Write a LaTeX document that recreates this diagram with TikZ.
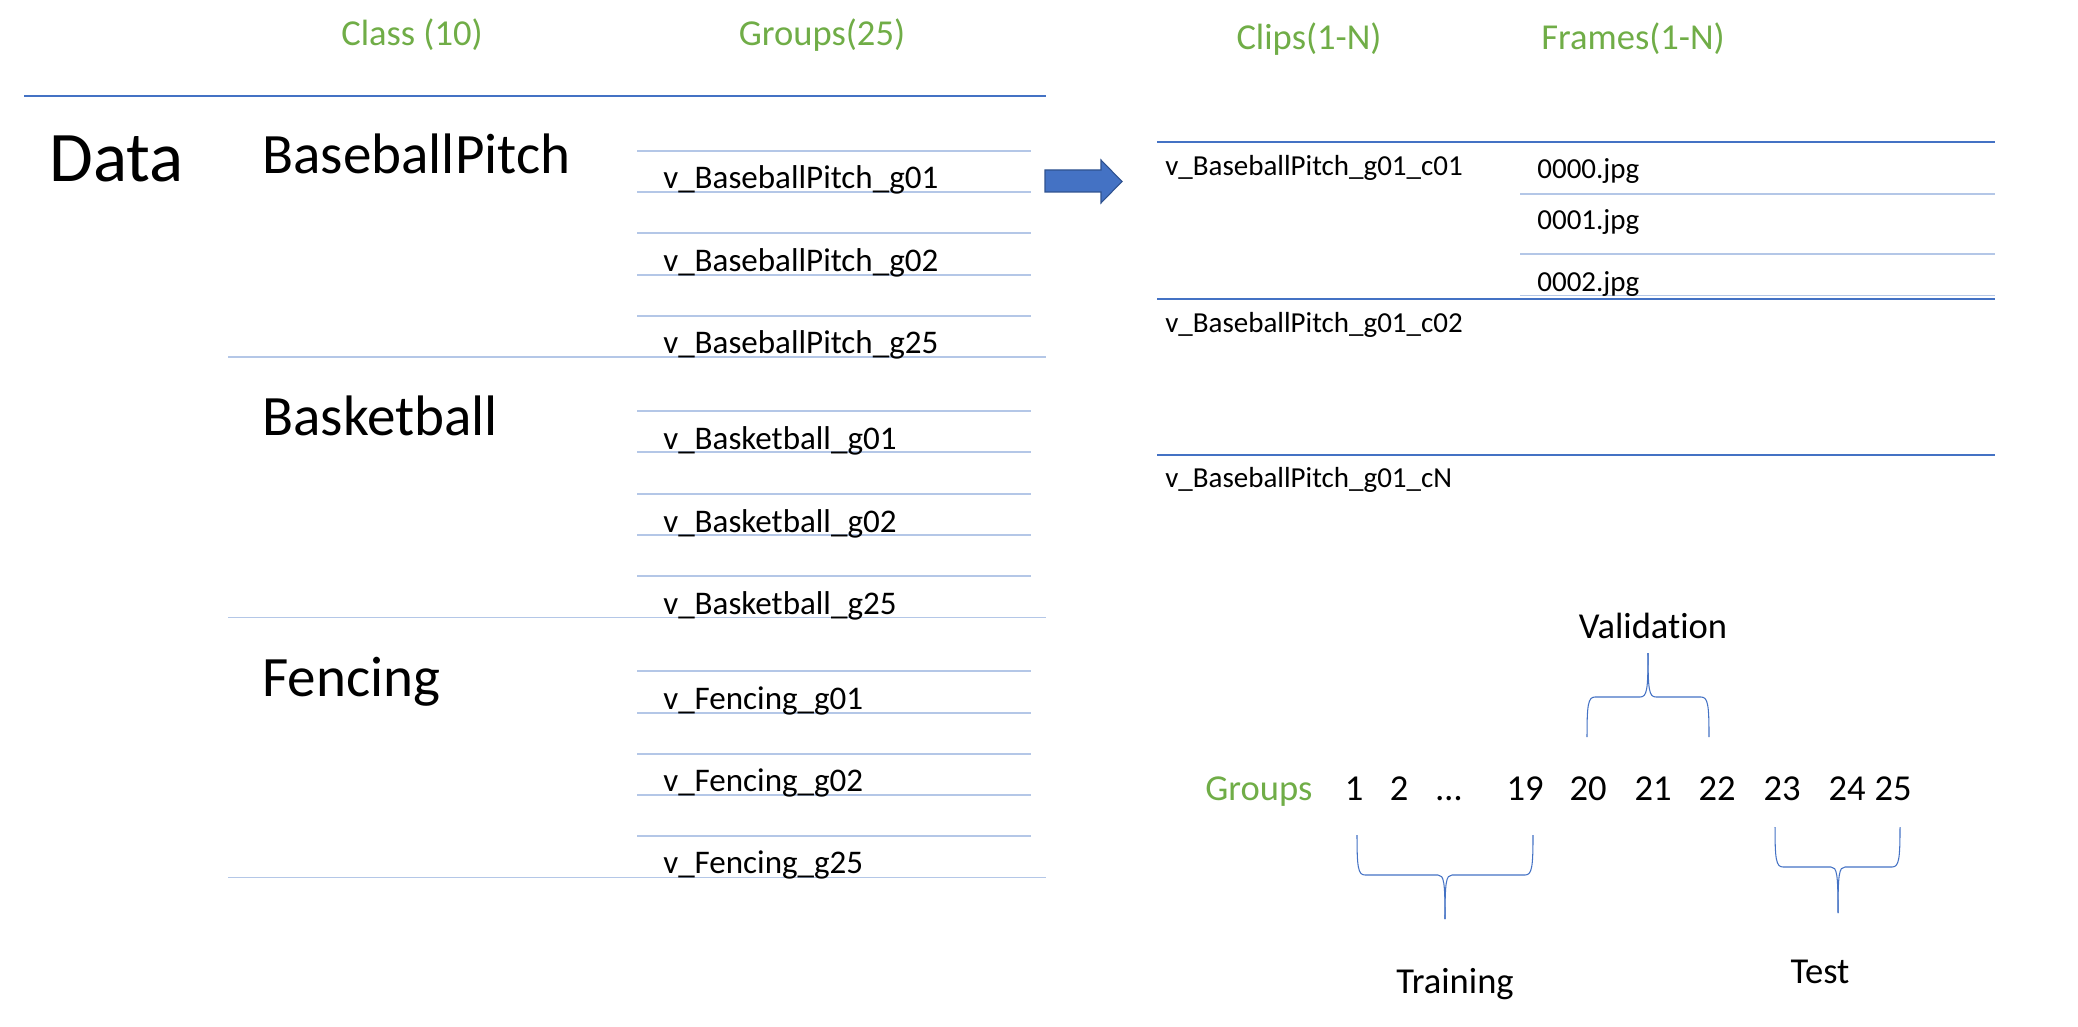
\documentclass[tikz,border=0pt]{standalone}
\usepackage{fontspec}
\setmainfont{Carlito}[Ligatures={NoCommon}]
\definecolor{hdgreen}{HTML}{70AD47}
\definecolor{rulelight}{HTML}{B4C7E7}
\definecolor{ruledark}{HTML}{4472C4}
\definecolor{arrowedge}{HTML}{2F528F}
\tikzset{
  header/.style={text=hdgreen, font=\fontsize{20.8}{25}\selectfont, anchor=base, inner sep=0pt},
  classname/.style={font=\fontsize{32.5}{39}\selectfont, anchor=base west, inner sep=0pt},
  groupitem/.style={font=\fontsize{18.8}{22}\selectfont, anchor=base west, inner sep=0pt},
  clipitem/.style={font=\fontsize{16.5}{20}\selectfont, anchor=base west, inner sep=0pt},
  splitnum/.style={font=\fontsize{20.8}{25}\selectfont, anchor=base, inner sep=0pt},
  lightrule/.style={rulelight, line width=0.8pt},
  darkrule/.style={ruledark, line width=0.9pt},
  bracket/.style={ruledark, line width=0.6pt},
}
\begin{document}
\begin{tikzpicture}[x=0.02cm, y=-0.02cm]
    \useasboundingbox (0,0) rectangle (2078,1027);
    % column headers
    \node[header] (classhead) at (412,46) {Class (10)};
    \node[header] (grouphead) at (822,46) {Groups(25)};
    \node[header] (cliphead) at (1309,50) {Clips(1-N)};
    \node[header] (framehead) at (1633,50) {Frames(1-N)};
    \draw[darkrule] (24,96) -- (1046,96);
    % left table
    \node[font=\fontsize{40.5}{48}\selectfont, anchor=base west, inner sep=0pt] (data) at (49,182) {Data};
    \node[classname] (baseball) at (262,174) {BaseballPitch};
    \node[classname] (basket) at (262,435) {Basketball};
    \node[classname] (fencing) at (262,696) {Fencing};
    \foreach \ly in {151,192,233,275,316, 411,452,494,535,576, 671,713,754,795,836}
        \draw[lightrule] (637,\ly) -- (1031,\ly);
    \foreach \ly in {357,617.5,877.5}
        \draw[lightrule] (228,\ly) -- (1046,\ly);
    \node[groupitem] (bp1) at (663,189) {v\_BaseballPitch\_g01};
    \node[groupitem] (bp2) at (663,271) {v\_BaseballPitch\_g02};
    \node[groupitem] (bp25) at (663,353) {v\_BaseballPitch\_g25};
    \node[groupitem] (bk1) at (663,449.5) {v\_Basketball\_g01};
    \node[groupitem] (bk2) at (663,532) {v\_Basketball\_g02};
    \node[groupitem] (bk25) at (663,614) {v\_Basketball\_g25};
    \node[groupitem] (fc1) at (663,709) {v\_Fencing\_g01};
    \node[groupitem] (fc2) at (663,791) {v\_Fencing\_g02};
    \node[groupitem] (fc25) at (663,873) {v\_Fencing\_g25};
    % block arrow
    \draw[fill=ruledark, draw=arrowedge, line width=0.6pt]
        (1045,170) -- (1101,170) -- (1101,160) -- (1122,181.5) -- (1101,203) -- (1101,192) -- (1045,192) -- cycle;
    % right table
    \draw[darkrule] (1157,142) -- (1995,142);
    \draw[darkrule] (1157,299) -- (1995,299);
    \draw[darkrule] (1157,455) -- (1995,455);
    \draw[lightrule] (1520,194) -- (1995,194);
    \draw[lightrule] (1520,254) -- (1995,254);
    \draw[lightrule] (1520,295.5) -- (1995,295.5);
    \node[clipitem] (clip1) at (1165,176) {v\_BaseballPitch\_g01\_c01};
    \node[clipitem] (clip2) at (1165,332) {v\_BaseballPitch\_g01\_c02};
    \node[clipitem] (clipn) at (1165,487) {v\_BaseballPitch\_g01\_cN};
    \node[clipitem] (frame0) at (1537,179) {0000.jpg};
    \node[clipitem] (frame1) at (1537,230) {0001.jpg};
    \node[clipitem] (frame2) at (1537,291) {0002.jpg};
    % split of the groups
    \node[header, anchor=base west] (splitlabel) at (1205,800) {Groups};
    \foreach \num/\nx in {1/1354, 2/1399, 19/1525, 20/1588, 21/1653, 22/1717, 23/1782, 24/1847, 25/1893}
        \node[splitnum] (n\num) at (\nx,800) {\num};
    \node[splitnum] (ndots) at (1449,800) {…};
    \draw[bracket] (1587,737) .. controls (1587,705) and (1588,697) .. (1595,697) -- (1640,697)
        .. controls (1647,697) and (1648,690) .. (1648,653);
    \draw[bracket] (1709,737) .. controls (1709,705) and (1708,697) .. (1701,697) -- (1656,697)
        .. controls (1649,697) and (1648,690) .. (1648,653);
    \draw[bracket] (1357,835) .. controls (1357,867) and (1358,875) .. (1365,875) -- (1438,875)
        .. controls (1444,875) and (1445,882) .. (1445,919);
    \draw[bracket] (1533,835) .. controls (1533,867) and (1532,875) .. (1525,875) -- (1452,875)
        .. controls (1446,875) and (1445,882) .. (1445,919);
    \draw[bracket] (1775,827) .. controls (1775,859) and (1776,867) .. (1783,867) -- (1831,867)
        .. controls (1837,867) and (1838,874) .. (1838,913);
    \draw[bracket] (1900,827) .. controls (1900,859) and (1899,867) .. (1892,867) -- (1845,867)
        .. controls (1839,867) and (1838,874) .. (1838,913);
    \node[splitnum] (valid) at (1653,638) {Validation};
    \node[splitnum] (train) at (1455,993) {Training};
    \node[splitnum] (test) at (1820,983) {Test};
\end{tikzpicture}
\end{document}
